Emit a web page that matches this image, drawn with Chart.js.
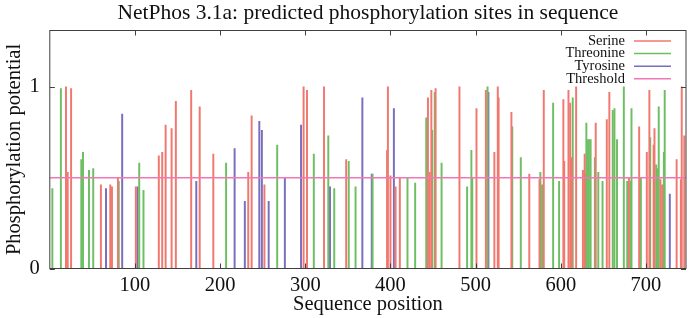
<!DOCTYPE html>
<html>
<head>
<meta charset="utf-8">
<script src="https://cdn.jsdelivr.net/npm/chart.js@4/dist/chart.umd.min.js"></script>
<style>
html,body{margin:0;padding:0;background:#fff;}
#wrap{width:700px;height:318px;}
</style>
</head>
<body>
<div id="wrap"><canvas id="c" width="700" height="318"></canvas></div>
<script>
// ---- data ----
const serinePos = [19,21,25,60,71,73,80,101,128,132,136,143,148,166,176,192,233,237,252,298,302,322,348,396,397,400,406,411,444,446,448,453,481,501,512,522,526,527,542,563,575,580,603,604,609,611,613,618,626,628,641,654,657,680,692,701,704,709,710,717,719,736,741,742,745];
const serineVal = [1.00,0.53,0.99,0.46,0.46,0.45,0.50,0.45,0.62,0.64,0.79,0.77,0.92,0.98,0.89,0.63,0.53,0.84,0.46,1.00,0.98,1.00,0.60,0.65,1.00,0.51,0.45,0.50,0.94,0.53,0.98,0.99,1.00,0.88,0.98,0.64,1.00,0.94,0.86,0.52,0.49,0.98,0.93,0.59,0.98,0.91,0.61,1.00,0.54,0.63,0.80,0.82,0.97,0.50,0.78,0.64,0.98,0.68,0.77,0.49,0.46,0.60,0.49,1.00,0.73];

const threoninePos = [3,13,37,39,46,51,81,105,110,207,267,310,327,334,351,359,379,420,429,442,449,452,460,490,495,496,514,543,553,576,578,591,598,614,629,630,632,633,635,640,644,649,661,663,666,674,678,682,683,694,705,712,714,715,721,722];
const threonineVal = [0.44,0.99,0.60,0.64,0.54,0.55,0.48,0.58,0.43,0.58,0.68,0.63,0.73,0.44,0.59,0.45,0.52,0.50,0.47,0.83,0.76,0.97,0.58,0.45,0.65,0.50,1.00,0.78,0.61,0.53,0.46,0.91,0.48,0.94,0.52,0.80,0.71,0.71,0.71,0.61,0.53,0.48,0.87,0.88,0.71,1.00,0.48,0.48,0.88,0.50,0.72,0.57,0.55,0.89,0.64,0.98];

const tyrosinePos = [66,85,103,172,217,229,246,249,257,276,295,329,367,378,404,515,728];
const tyrosineVal = [0.44,0.85,0.45,0.48,0.66,0.37,0.81,0.76,0.37,0.50,0.79,0.45,0.94,0.52,0.88,0.97,0.41];

const threshold = 0.5;
const xRange = [0, 747];
const yRange = [0, 1.31];
const xTickValues = [100, 200, 300, 400, 500, 600, 700];
const yTickValues = [0, 1];

const titleText = 'NetPhos 3.1a: predicted phosphorylation sites in sequence';
const xLabel = 'Sequence position';
const yLabel = 'Phosphorylation potential';
const seriesLabels = ['Serine', 'Threonine', 'Tyrosine', 'Threshold'];

// ---- styles ----
const colors = ['rgb(240,120,110)', 'rgb(110,190,100)', 'rgb(120,110,190)', 'rgb(240,120,180)'];
const FONT = "'Liberation Serif', 'Times New Roman', serif";
const frameColor = '#404040';

function pts(pos, val) { return pos.map((x, i) => ({x: x, y: val[i]})); }

function barSet(label, pos, val, color) {
  return {
    type: 'bar', label: label, data: pts(pos, val),
    backgroundColor: color, borderWidth: 0,
    barThickness: 1.3, grouped: false, order: 2
  };
}

const framePlugin = {
  id: 'frame',
  afterDatasetsDraw(chart) {
    const {ctx, chartArea: a, scales} = chart;
    ctx.save();
    ctx.strokeStyle = frameColor;
    ctx.lineWidth = 1;
    ctx.strokeRect(a.left, a.top, a.right - a.left, a.bottom - a.top);
    const tl = 5;
    ctx.beginPath();
    scales.x.ticks.forEach(t => {
      const px = Math.round(scales.x.getPixelForValue(t.value)) + 0.5;
      ctx.moveTo(px, a.bottom); ctx.lineTo(px, a.bottom - tl);
      ctx.moveTo(px, a.top); ctx.lineTo(px, a.top + tl);
    });
    scales.y.ticks.forEach(t => {
      const py = Math.round(scales.y.getPixelForValue(t.value)) + 0.5;
      ctx.moveTo(a.left, py); ctx.lineTo(a.left + tl, py);
      ctx.moveTo(a.right, py); ctx.lineTo(a.right - tl, py);
    });
    ctx.stroke();
    ctx.restore();
  }
};

const legendPlugin = {
  id: 'insideLegend',
  afterDraw(chart) {
    const {ctx, chartArea: a} = chart;
    ctx.save();
    ctx.font = '14.5px ' + FONT;
    ctx.textAlign = 'right';
    ctx.textBaseline = 'middle';
    const textRight = a.right - 61;
    const lineL = a.right - 52, lineR = a.right - 15;
    chart.data.datasets.forEach((ds, i) => {
      const y = a.top + 10.5 + i * 12.6;
      ctx.fillStyle = '#111';
      ctx.fillText(ds.label, textRight, y);
      ctx.strokeStyle = colors[i];
      ctx.lineWidth = 1.5;
      ctx.beginPath();
      ctx.moveTo(lineL, y); ctx.lineTo(lineR, y);
      ctx.stroke();
    });
    ctx.restore();
  }
};

new Chart(document.getElementById('c'), {
  type: 'bar',
  data: {
    datasets: [
      barSet(seriesLabels[0], serinePos, serineVal, colors[0]),
      barSet(seriesLabels[1], threoninePos, threonineVal, colors[1]),
      barSet(seriesLabels[2], tyrosinePos, tyrosineVal, colors[2]),
      {
        type: 'line', label: seriesLabels[3],
        data: [{x: xRange[0], y: threshold}, {x: xRange[1], y: threshold}],
        borderColor: colors[3], borderWidth: 1.5, pointRadius: 0, order: 0
      }
    ]
  },
  options: {
    responsive: false,
    animation: false,
    events: [],
    layout: {padding: {left: 0, right: 14, top: 0, bottom: 0}},
    plugins: {
      legend: {display: false},
      tooltip: {enabled: false},
      title: {
        display: true, text: titleText, fullSize: false, color: '#111',
        font: {family: FONT, size: 21.5, weight: 'normal', lineHeight: 1.2},
        padding: {top: 0.5, bottom: 4.2}
      }
    },
    scales: {
      x: {
        type: 'linear', min: xRange[0], max: xRange[1], offset: false,
        grid: {display: false, drawTicks: false},
        border: {display: false},
        afterBuildTicks: s => { s.ticks = xTickValues.map(v => ({value: v})); },
        ticks: {
          autoSkip: false, maxRotation: 0,
          padding: 5, color: '#111',
          font: {family: FONT, size: 20.5},
          callback: v => String(v)
        },
        title: {
          display: true, text: xLabel, color: '#111',
          font: {family: FONT, size: 20.5, lineHeight: 1.2},
          padding: {top: 0, bottom: 1}
        },
        afterFit: s => { s.height = 49.5; }
      },
      y: {
        type: 'linear', min: yRange[0], max: yRange[1],
        grid: {display: false, drawTicks: false},
        border: {display: false},
        afterBuildTicks: s => { s.ticks = yTickValues.map(v => ({value: v})); },
        ticks: {
          padding: 10, color: '#111',
          font: {family: FONT, size: 20.5},
          callback: v => String(v)
        },
        title: {
          display: true, text: yLabel, color: '#111',
          font: {family: FONT, size: 20.5, lineHeight: 1.2},
          padding: {top: 2, bottom: 0}
        },
        afterFit: s => { s.width = 49.8; }
      }
    }
  },
  plugins: [framePlugin, legendPlugin]
});
</script>
</body>
</html>
